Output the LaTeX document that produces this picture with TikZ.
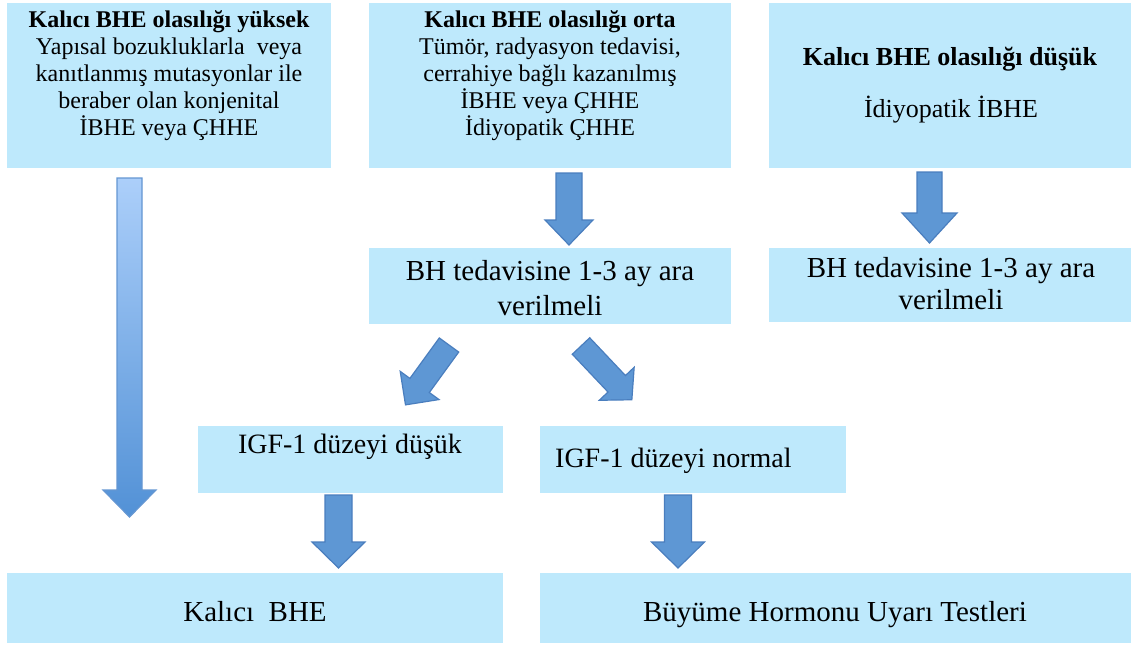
\documentclass[tikz,border=0pt]{standalone}
\usepackage{fontspec}
\setmainfont{Liberation Serif}
\definecolor{boxblue}{RGB}{190,233,252}
\definecolor{arrfill}{RGB}{94,151,212}
\definecolor{arrline}{RGB}{74,126,190}
\definecolor{longtop}{RGB}{172,207,250}
\definecolor{longbot}{RGB}{82,145,214}
\definecolor{longline}{RGB}{100,150,210}
\newcommand\blockarr[7]{%
  \begin{scope}[shift={(#1,#2)},rotate=#3]
    \path[barrow] (0,-#6) -- ({#4-#5},-#6) -- ({#4-#5},-#7) -- (#4,0) -- ({#4-#5},#7) -- ({#4-#5},#6) -- (0,#6) -- cycle;
  \end{scope}}
\begin{document}
\begin{tikzpicture}[x=1pt,y=-1pt,
  box/.style={fill=boxblue, draw=none, inner sep=0pt, anchor=north west},
  txt/.style={inner sep=0pt, align=center, text=black},
  barrow/.style={fill=arrfill, draw=arrline, line width=1.2pt, line join=miter}]
\useasboundingbox (0,0) rectangle (1131,646);
% boxes
\node[box, minimum width=324, minimum height=165] (b1) at (7,3) {};
\node[box, minimum width=362, minimum height=165] (b2) at (369,3) {};
\node[box, minimum width=362, minimum height=165] (b3) at (769,3) {};
\node[box, minimum width=362, minimum height=76] (b4) at (369,248) {};
\node[box, minimum width=362, minimum height=74] (b5) at (769,248) {};
\node[box, minimum width=305, minimum height=67] (b6) at (198,426) {};
\node[box, minimum width=306, minimum height=67] (b7) at (540,426) {};
\node[box, minimum width=496, minimum height=70] (b8) at (7,573) {};
\node[box, minimum width=591, minimum height=70] (b9) at (540,573) {};
% texts
\node[txt, anchor=north, font=\fontsize{24}{27}\selectfont] (t1) at (169,10)
  {\textbf{Kalıcı BHE olasılığı yüksek}\\Yapısal bozukluklarla\ \ veya\\kanıtlanmış mutasyonlar ile\\beraber olan konjenital\\İBHE veya ÇHHE};
\node[txt, anchor=north, font=\fontsize{24}{27}\selectfont] (t2) at (550,10)
  {\textbf{Kalıcı BHE olasılığı orta}\\Tümör, radyasyon tedavisi,\\cerrahiye bağlı kazanılmış\\İBHE veya ÇHHE\\İdiyopatik ÇHHE};
\node[txt, anchor=base, font=\fontsize{26}{30}\selectfont\bfseries] (t3a) at (950,65) {Kalıcı BHE olasılığı düşük};
\node[txt, anchor=base, font=\fontsize{26}{30}\selectfont] (t3b) at (951,117) {İdiyopatik İBHE};
\node[txt, anchor=north, font=\fontsize{29}{35}\selectfont] (t4) at (550,260) {BH tedavisine 1-3 ay ara\\verilmeli};
\node[txt, anchor=north, font=\fontsize{29}{32}\selectfont] (t5) at (951,257) {BH tedavisine 1-3 ay ara\\verilmeli};
\node[txt, anchor=base, font=\fontsize{28}{32}\selectfont] (t6) at (350,453) {IGF-1 düzeyi düşük};
\node[txt, anchor=base west, font=\fontsize{28}{32}\selectfont] (t7) at (555,467) {IGF-1 düzeyi normal};
\node[txt, anchor=base, font=\fontsize{29}{33}\selectfont] (t8) at (255,621) {Kalıcı\ \ BHE};
\node[txt, anchor=base, font=\fontsize{29}{33}\selectfont] (t9) at (835,621) {Büyüme Hormonu Uyarı Testleri};
% long gradient arrow
\path[draw=longline, line width=1.2pt, top color=longtop, bottom color=longbot, line join=miter]
  (117,178) -- (142,178) -- (142,490) -- (156,490) -- (129.5,517) -- (103,490) -- (117,490) -- cycle;
% block arrows
\blockarr{569}{173}{-90}{72}{25}{13}{24}
\blockarr{929.5}{172}{-90}{71}{30}{12.5}{27.5}
\blockarr{338.5}{495}{-90}{73}{26}{13.5}{26.5}
\blockarr{678}{495}{-90}{73}{26}{13.5}{26.5}
\blockarr{449}{345}{-126}{74}{24}{12}{24}
\blockarr{581}{346}{-46.6}{74}{22}{12}{24}
\end{tikzpicture}
\end{document}
